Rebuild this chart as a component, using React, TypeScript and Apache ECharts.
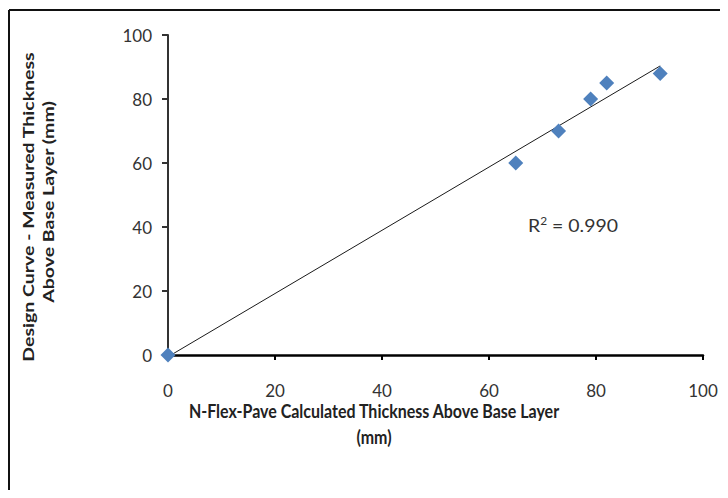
import React, { useEffect, useRef } from "react";
import * as echarts from "echarts";

const calculated: number[] = [0, 65, 73, 79, 82, 92];
const measured: number[] = [0, 60, 70, 80, 85, 88];
const axisTicks: number[] = [0, 20, 40, 60, 80, 100];
const xTitle = "N-Flex-Pave Calculated Thickness Above Base Layer";
const xTitle2 = "(mm)";
const yTitle1 = "Design Curve - Measured Thickness";
const yTitle2 = "Above Base Layer (mm)";
const r2Text = "0.990";

function fit(xs: number[], ys: number[]) {
  const n = xs.length;
  const mx = xs.reduce((a, b) => a + b, 0) / n;
  const my = ys.reduce((a, b) => a + b, 0) / n;
  let sxy = 0, sxx = 0;
  for (let i = 0; i < n; i++) {
    sxy += (xs[i] - mx) * (ys[i] - my);
    sxx += (xs[i] - mx) * (xs[i] - mx);
  }
  const slope = sxy / sxx;
  return { slope, intercept: my - slope * mx };
}

const FONT = "Lato, 'Open Sans', sans-serif";

export default function App() {
  const ref = useRef<HTMLDivElement>(null);
  useEffect(() => {
    if (!ref.current) return;
    const chart = echarts.init(ref.current, undefined, { renderer: "svg" });
    const { slope, intercept } = fit(calculated, measured);
    const xMin = Math.min(...calculated);
    const xMax = Math.max(...calculated);
    const trend = [
      [xMin, intercept + slope * xMin],
      [xMax, intercept + slope * xMax],
    ];
    chart.setOption({
      animation: false,
      backgroundColor: "#ffffff",
      grid: { left: 168, right: 25, top: 35, bottom: 143, containLabel: false },
      xAxis: {
        type: "value",
        min: axisTicks[0],
        max: axisTicks[axisTicks.length - 1],
        interval: 20,
        splitLine: { show: false },
        axisLine: { show: true, onZero: false, lineStyle: { color: "#000000", width: 2.5 } },
        axisTick: { show: true, length: 5, inside: false, lineStyle: { color: "#000000", width: 2 } },
        axisLabel: { color: "#333333", fontSize: 17, fontFamily: FONT, margin: 27 },
      },
      yAxis: {
        type: "value",
        min: axisTicks[0],
        max: axisTicks[axisTicks.length - 1],
        interval: 20,
        splitLine: { show: false },
        axisLine: { show: true, onZero: false, lineStyle: { color: "#333333", width: 2 } },
        axisTick: { show: true, length: 6, inside: false, lineStyle: { color: "#333333", width: 2 } },
        axisLabel: { color: "#333333", fontSize: 17, fontFamily: FONT, margin: 16 },
      },
      series: [
        {
          type: "line",
          data: trend,
          showSymbol: false,
          symbol: "none",
          lineStyle: { color: "#1a1a1a", width: 1 },
          z: 3,
        },
        {
          type: "scatter",
          data: calculated.map((x, i) => [x, measured[i]]),
          symbol: "diamond",
          symbolSize: 15,
          itemStyle: { color: "#4F81BD", opacity: 1 },
          z: 4,
        },
      ],
      graphic: [
        { type: "line", shape: { x1: 9, y1: 10, x2: 728, y2: 10 }, style: { stroke: "#111111", lineWidth: 2 } },
        { type: "line", shape: { x1: 9, y1: 10, x2: 9, y2: 498 }, style: { stroke: "#111111", lineWidth: 2 } },
        {
          type: "text",
          x: 374,
          y: 410,
          scaleY: 1.22,
          style: { text: xTitle, fill: "#222222", font: `bold 16px ${FONT}`, align: "center", verticalAlign: "middle" },
        },
        {
          type: "text",
          x: 374,
          y: 436,
          scaleY: 1.22,
          style: { text: xTitle2, fill: "#222222", font: `bold 16px ${FONT}`, align: "center", verticalAlign: "middle" },
        },
        {
          type: "text",
          x: 28,
          y: 207,
          rotation: Math.PI / 2,
          scaleX: 1.22,
          style: { text: yTitle1, fill: "#222222", font: `bold 16px ${FONT}`, align: "center", verticalAlign: "middle" },
        },
        {
          type: "text",
          x: 48,
          y: 202,
          rotation: Math.PI / 2,
          scaleX: 1.22,
          style: { text: yTitle2, fill: "#222222", font: `bold 16px ${FONT}`, align: "center", verticalAlign: "middle" },
        },
        {
          type: "text",
          x: 528,
          y: 225,
          scaleX: 1.08,
          style: {
            text: "{r|R}{s|2}{r| = " + r2Text + "}",
            rich: {
              r: { fontSize: 18, fontFamily: FONT, fill: "#333333", color: "#333333", verticalAlign: "bottom" },
              s: { fontSize: 11, fontFamily: FONT, fill: "#333333", color: "#333333", padding: [0, 0, 8, 0] },
            },
            verticalAlign: "middle",
          },
        },
      ],
    });
    return () => chart.dispose();
  }, []);
  return <div ref={ref} style={{ width: 728, height: 498, margin: -8 }} />;
}
